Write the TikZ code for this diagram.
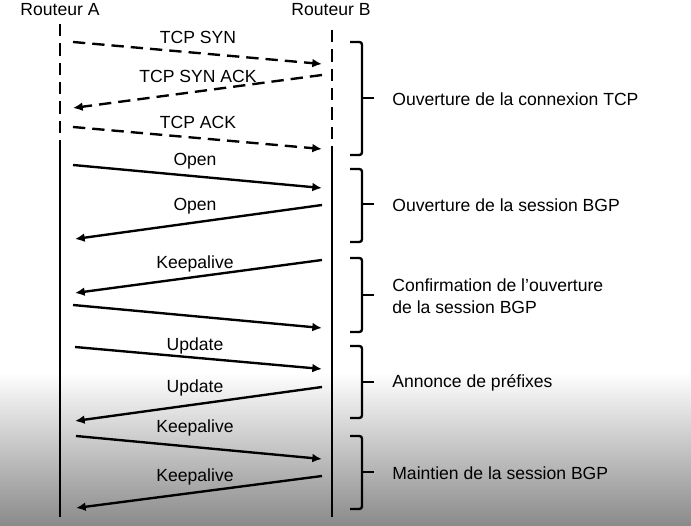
\documentclass[tikz,border=0pt]{standalone}
\usepackage{fontspec}
\setmainfont{Liberation Sans}
\usetikzlibrary{arrows.meta}

\begin{document}
\begin{tikzpicture}[x=0.02cm,y=-0.02cm,
    line/.style={line width=1.35pt},
    dashline/.style={line width=1.35pt,dash pattern=on 7pt off 4pt},
    msg/.style={line width=1.35pt,-{Latex[length=5.5pt,width=5pt]}},
    tcpmsg/.style={msg,dash pattern=on 7pt off 4pt},
    lbl/.style={font=\fontsize{10}{12.5}\selectfont,inner sep=0pt},
    phase/.style={lbl,anchor=west,align=left}]
  \useasboundingbox (0,0) rectangle (691,526);
  % grey fade at the bottom
  \shade[top color=white,bottom color=black!46] (0,372) rectangle (691,526);

  % Routers
  \node[lbl] (ra) at (60,10) {Routeur A};
  \node[lbl] (rb) at (331,10) {Routeur B};

  % Lifelines: dashed while TCP is set up, solid afterwards
  \coordinate (a0) at (60,24);
  \coordinate (a1) at (60,150);
  \coordinate (a2) at (60,517);
  \coordinate (b0) at (332,30);
  \coordinate (b1) at (332,146);
  \coordinate (b2) at (332,517);
  \draw[dashline] (a0) -- (a1);
  \draw[line] (a1) -- (a2);
  \draw[dashline] (b0) -- (b1);
  \draw[line] (b1) -- (b2);

  % TCP handshake
  \foreach \xs/\ys/\xe/\ye/\ly/\lab [count=\i] in {
      73/42/322/64/37/TCP SYN,
      322/75/73/108/76/TCP SYN ACK,
      73/127/322/149/122/TCP ACK}
  {
    \coordinate (ts\i) at (\xs,\ys);
    \coordinate (te\i) at (\xe,\ye);
    \draw[tcpmsg] (ts\i) -- (te\i);
    \node[lbl] (tl\i) at (198,\ly) {\lab};
  }

  % BGP messages
  \foreach \xs/\ys/\xe/\ye/\ly/\lab [count=\i] in {
      73/165/322/188/161/Open,
      322/205/75/239/206/Open,
      322/260/75/293/264/Keepalive,
      75/347/322/369/346/Update,
      322/387/75/421/388/Update,
      76/436/322/459/428/Keepalive,
      322/476/76/508/477/Keepalive}
  {
    \coordinate (ms\i) at (\xs,\ys);
    \coordinate (me\i) at (\xe,\ye);
    \draw[msg] (ms\i) -- (me\i);
    \node[lbl] (ml\i) at (195,\ly) {\lab};
  }
  % answer to the first Keepalive (no label)
  \coordinate (ks) at (73,305);
  \coordinate (ke) at (322,328);
  \draw[msg] (ks) -- (ke);

  % Phase braces and their labels
  \foreach \yt/\ym/\yb/\txt [count=\i] in {
      42/98/155/Ouverture de la connexion TCP,
      169/204/242/Ouverture de la session BGP,
      258/295/332/{Confirmation de l’ouverture\\de la session BGP},
      346/382/418/Annonce de préfixes,
      436/472/509/Maintien de la session BGP}
  {
    \draw[line,rounded corners=1.5pt] (350,\yt) -- (362,\yt) -- (362,\yb) -- (350,\yb);
    \draw[line] (362,\ym) -- (374,\ym);
    \node[phase] (ph\i) at (392,\ym+1) {\txt};
  }
\end{tikzpicture}
\end{document}
